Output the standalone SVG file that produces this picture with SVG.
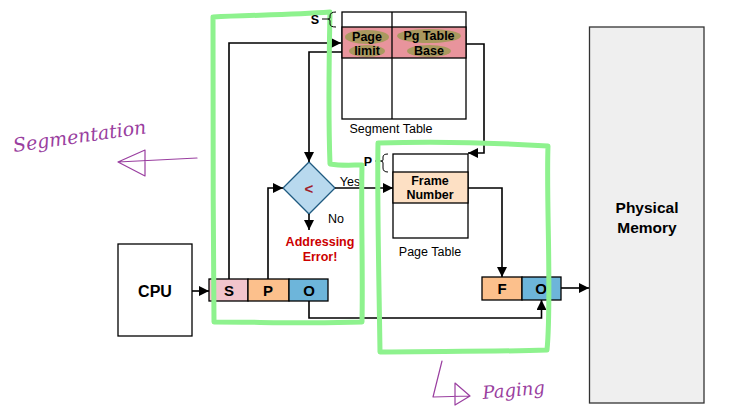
<svg xmlns="http://www.w3.org/2000/svg" width="733" height="415" viewBox="0 0 733 415">
<defs>
<marker id="ah" viewBox="0 0 10 10" refX="10" refY="5" markerWidth="10" markerHeight="10" markerUnits="userSpaceOnUse" orient="auto">
<path d="M0,0 L10,5 L0,10 z" fill="#000"/>
</marker>
<style>
.box{stroke:#000;stroke-width:1.3}
.t{font-family:"Liberation Sans",Arial,sans-serif;text-anchor:middle}
.b{font-weight:bold}
.c{fill:none;stroke:#000;stroke-width:1.6}
.hl{fill:none;stroke:#8ef28e;stroke-width:5;stroke-linejoin:round;stroke-linecap:round}
.ink{fill:none;stroke:#9a3fa0;stroke-width:1.2;stroke-linejoin:round;stroke-linecap:round}
.hw{font-family:"DejaVu Serif","Liberation Serif",serif;font-style:italic;fill:#9a3fa0}
.ol{fill:#9a9a50;opacity:0.8}
</style>
</defs>
<rect width="733" height="415" fill="#fff"/>

<g id="page-table">
<rect x="393" y="154" width="75" height="84" fill="#fff" class="box"/>
<rect x="393" y="172" width="75" height="31" fill="#fde0c4" class="box"/>
<text x="430" y="185" class="t b" font-size="12.5">Frame</text>
<text x="430" y="199" class="t b" font-size="12.5">Number</text>
<text x="430" y="256" class="t" font-size="12.5">Page Table</text>
<text x="368" y="166" class="t b" font-size="12.5">P</text>
<path d="M375,161 H381 M388,154 Q383,154 383,157 V160 Q383,161 381,161 Q383,161 383,163 V168 Q383,172 388,172" fill="none" stroke="#000" stroke-width="1"/>
</g>

<g id="compare">
<path d="M309,162 L335,188 L309,214 L283,188 Z" fill="#b8d9ee" stroke="#1f5a80" stroke-width="1.3"/>
<text x="309" y="194" class="t b" font-size="15" fill="#a0202a">&lt;</text>
<text x="350" y="186" class="t" font-size="12.5">Yes</text>
<text x="336" y="223" class="t" font-size="12.5">No</text>
<text x="320" y="246" class="t b" font-size="12.5" fill="#cc0000">Addressing</text>
<text x="320" y="261" class="t b" font-size="12.5" fill="#cc0000">Error!</text>
</g>

<g id="cpu">
<rect x="118" y="244" width="74" height="92" fill="#fff" class="box"/>
<text x="155" y="297" class="t b" font-size="16">CPU</text>
</g>

<g id="virtual-address">
<rect x="209" y="279" width="39" height="22" fill="#f2c4cc" class="box"/>
<rect x="248" y="279" width="41" height="22" fill="#fcc08c" class="box"/>
<rect x="289" y="279" width="39" height="22" fill="#6db5da" class="box"/>
<text x="229" y="296" class="t b" font-size="15">S</text>
<text x="268" y="296" class="t b" font-size="15">P</text>
<text x="309" y="296" class="t b" font-size="15">O</text>
</g>

<g id="physical-address">
<rect x="482" y="277" width="40" height="23" fill="#fcc08c" class="box"/>
<rect x="522" y="277" width="39" height="23" fill="#6db5da" class="box"/>
<text x="502" y="294" class="t b" font-size="15">F</text>
<text x="541" y="294" class="t b" font-size="15">O</text>
</g>

<g id="physical-memory">
<rect x="589.5" y="27" width="114.5" height="376" fill="#efefef" stroke="#333" stroke-width="1.3"/>
<text x="647" y="213" class="t b" font-size="15.5">Physical</text>
<text x="647" y="233" class="t b" font-size="15.5">Memory</text>
</g>

<g id="connectors">
<path d="M192,291 H209" class="c" marker-end="url(#ah)"/>
<path d="M229,279 V43 H341" class="c" marker-end="url(#ah)"/>
<path d="M342,52 H309 V162" class="c" marker-end="url(#ah)"/>
<path d="M268,279 V188 H283" class="c" marker-end="url(#ah)"/>
<path d="M309,214 V230" class="c" marker-end="url(#ah)"/>
<path d="M335,188 H393" class="c" marker-end="url(#ah)"/>
<path d="M466,44 H484 V153 H468" class="c" marker-end="url(#ah)"/>
<path d="M468,188 H502 V277" class="c" marker-end="url(#ah)"/>
<path d="M309,301 V318 H541.5 V300" class="c" marker-end="url(#ah)"/>
<path d="M561,288 H589" class="c" marker-end="url(#ah)"/>
</g>

<g id="annotations">
<path class="hl" d="M213,17 C250,15 290,15 330,12 C329,60 328,110 330,164 C342,166 352,165 362,165 C361,220 363,270 362,322 C310,324 260,322 214,322 C213,220 213,120 213,17"/>
<path class="hl" d="M378,143 C440,141 500,143 548,146 C546,200 552,300 547,350 C490,352 430,351 380,352 C379,280 377,200 378,143"/>
<path class="ink" d="M197,158 L118,162 L145,150 L145,176 L118,162"/>
<text x="14" y="152" class="hw" font-size="19" transform="rotate(-8 14 152)">Segmentation</text>
<path class="ink" d="M442,361 L433,397 L470,396 M455,383 L470,396 L455,405 Z"/>
<text x="483" y="399" class="hw" font-size="18" transform="rotate(-5 483 399)">Paging</text>
</g>

<g id="segment-table">
<rect x="342" y="12" width="124" height="107" fill="#fff" class="box"/>
<rect x="342" y="27" width="124" height="31" fill="#e8949c" class="box"/>
<line x1="392" y1="12" x2="392" y2="119" class="box"/>
<ellipse cx="367" cy="37" rx="22" ry="7" class="ol"/>
<ellipse cx="367" cy="51" rx="18" ry="6" class="ol"/>
<ellipse cx="429" cy="36" rx="32" ry="7" class="ol"/>
<ellipse cx="429" cy="51" rx="22" ry="6" class="ol"/>
<text x="367" y="41" class="t b" font-size="12.5">Page</text>
<text x="367" y="55" class="t b" font-size="12.5">limit</text>
<text x="429" y="40" class="t b" font-size="12.5">Pg Table</text>
<text x="429" y="55" class="t b" font-size="12.5">Base</text>
<text x="391" y="133" class="t" font-size="12.5">Segment Table</text>
<text x="315" y="24" class="t b" font-size="12.5">S</text>
<path d="M322,19 H328 M336,12 Q330,12 330,16 V18 Q330,19 328,19 Q330,19 330,21 V24 Q330,27 336,27" fill="none" stroke="#000" stroke-width="1"/>
</g>
</svg>
